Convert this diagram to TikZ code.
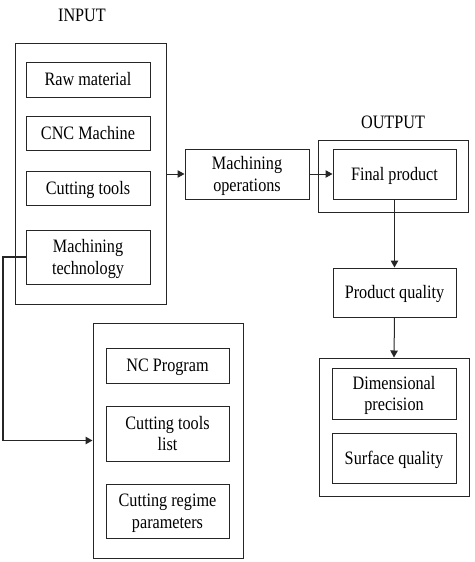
\documentclass[tikz,border=0pt]{standalone}
\usepackage{fontspec}
\usepackage{graphicx}
\setmainfont{Liberation Serif}
\usetikzlibrary{arrows.meta}
\newcommand{\tx}[1]{\raisebox{-2pt}[\height][\depth]{\scalebox{1}[1.17]{\begin{tabular}{@{}c@{}}#1\end{tabular}}}}
\begin{document}
\begin{tikzpicture}[x=1pt,y=-1pt,
  box/.style={draw=black!85,line width=1pt,rectangle,inner sep=0pt,align=center,
    font=\fontsize{16.2}{18.5}\selectfont},
  lbl/.style={inner sep=0pt,font=\fontsize{16.2}{18.5}\selectfont},
  arr/.style={draw=black!85,line width=1pt,-{Triangle[length=7pt,width=7.5pt]}}]
\useasboundingbox (0,0) rectangle (474,562);
% containers
\node[box,minimum width=151pt,minimum height=261pt] (inbox) at (90.5,173.5) {};
\node[box,minimum width=150pt,minimum height=72pt] (outbox) at (393,176) {};
\node[box,minimum width=150pt,minimum height=138pt] (qbox) at (394,427) {};
\node[box,minimum width=150pt,minimum height=235pt] (ncbox) at (168,440.5) {};
% labels
\node[lbl] (inlbl) at (82,15) {\tx{INPUT}};
\node[lbl] (outlbl) at (393,122) {\tx{OUTPUT}};
% input items
\node[box,minimum width=124pt,minimum height=35pt] (raw) at (88,79.5) {\tx{Raw material}};
\node[box,minimum width=124pt,minimum height=34pt] (cnc) at (88,133) {\tx{CNC Machine}};
\node[box,minimum width=124pt,minimum height=34pt] (tools) at (88,188) {\tx{Cutting tools}};
\node[box,minimum width=124pt,minimum height=54pt] (tech) at (88,257) {\tx{Machining\\technology}};
% middle
\node[box,minimum width=124pt,minimum height=50pt] (mop) at (247,174) {\tx{Machining\\operations}};
% output
\node[box,minimum width=123pt,minimum height=50pt] (final) at (394.5,174) {\tx{Final product}};
\node[box,minimum width=123pt,minimum height=49pt] (pq) at (394.5,292.5) {\tx{Product quality}};
\node[box,minimum width=124pt,minimum height=51pt] (dim) at (394,393.5) {\tx{Dimensional\\precision}};
\node[box,minimum width=124pt,minimum height=50pt] (surf) at (394,458) {\tx{Surface quality}};
% NC items
\node[box,minimum width=123pt,minimum height=35pt] (nc) at (167.5,365.5) {\tx{NC Program}};
\node[box,minimum width=123pt,minimum height=55pt] (ctl) at (167.5,433.5) {\tx{Cutting tools\\list}};
\node[box,minimum width=123pt,minimum height=54pt] (crp) at (167.5,511) {\tx{Cutting regime\\parameters}};
% connectors
\draw[arr] (inbox.east |- mop.west) -- (mop.west);
\draw[arr] (mop.east) -- (final.west);
\draw[arr] (final.south) -- (pq.north);
\draw[arr] (pq.south) -- (qbox.north);
\coordinate (bend) at (3,440.5);
\draw[arr,line width=1.3pt] (tech.west) -| (bend) -- (ncbox.west);
\end{tikzpicture}
\end{document}
